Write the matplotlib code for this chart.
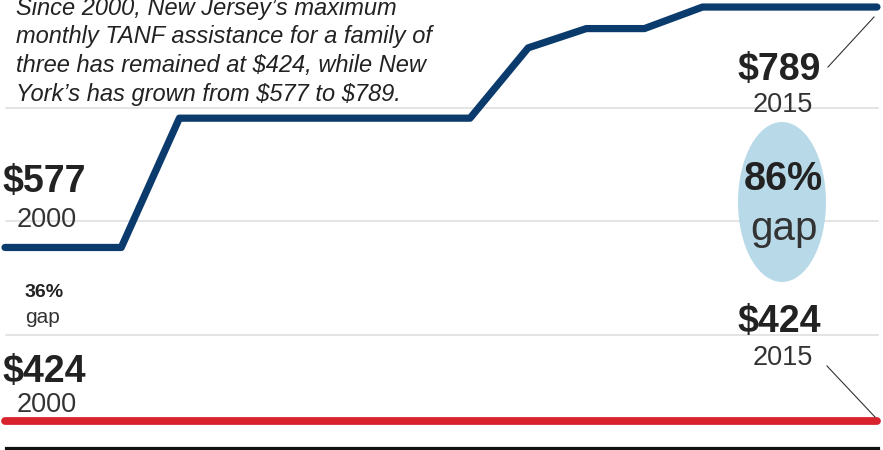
"""TANF maximum monthly benefit, family of three: New York vs New Jersey, 2000-2015."""

import matplotlib.pyplot as plt
from matplotlib.patches import Ellipse
from matplotlib.lines import Line2D

# data
years = list(range(2000, 2016))
ny_benefit = [577, 577, 577, 691, 691, 691, 691, 691, 691, 753, 770, 770, 789, 789, 789, 789]
nj_benefit = [424] * 16
grid_values = [500, 600, 700]

note_lines = [
    "Since 2000, New Jersey\u2019s maximum",
    "monthly TANF assistance for a family of",
    "three has remained at $424, while New",
    "York\u2019s has grown from $577 to $789.",
]

NAVY = '#0b3a6d'
RED = '#d8232f'
BUBBLE = '#b8d9e8'
TEXT = '#222222'

W, H = 883, 450


def fx(px):
    return px / W


def fy(px):
    # pixels from top -> figure fraction
    return 1 - px / H


def main():
    plt.rcParams['font.family'] = ['Liberation Sans', 'DejaVu Sans']
    plt.rcParams['text.parse_math'] = False  # dollar signs are literal
    fig = plt.figure(figsize=(W / 100, H / 100), dpi=100)
    ax = fig.add_axes([0, 0, 1, 1])
    ax.set_xlim(1999.914, 2015.104)
    ax.set_ylim(398.41, 795.2)
    ax.axis('off')

    # gridlines + baseline
    for g in grid_values:
        ax.axhline(g, xmin=fx(6), xmax=fx(878), color='#dcdcdc', lw=1.1, zorder=1)
    ax.axhline(400, xmin=fx(6), xmax=fx(878), color='#111111', lw=2.3, zorder=1, clip_on=False)

    # series
    ax.plot(years, ny_benefit, color=NAVY, lw=5.2, solid_capstyle='round',
            solid_joinstyle='round', zorder=3)
    ax.plot(years, nj_benefit, color=RED, lw=5.6, solid_capstyle='round', zorder=3)

    # italic note
    for i, line in enumerate(note_lines):
        fig.text(fx(16), fy(15 + i * 28.5), line, fontsize=17, style='italic',
                 color=TEXT, va='baseline', ha='left')

    # left labels
    fig.text(fx(2), fy(192), '$577', fontsize=27, fontweight='bold', color=TEXT, va='baseline')
    fig.text(fx(47), fy(227), '2000', fontsize=19.5, color='#333333', va='baseline', ha='center')
    fig.text(fx(44), fy(297), '36%', fontsize=14, fontweight='bold', color=TEXT, va='baseline', ha='center')
    fig.text(fx(43), fy(323), 'gap', fontsize=15, color='#333333', va='baseline', ha='center')
    fig.text(fx(2), fy(382), '$424', fontsize=27, fontweight='bold', color=TEXT, va='baseline')
    fig.text(fx(47), fy(412), '2000', fontsize=19.5, color='#333333', va='baseline', ha='center')

    # right labels
    fig.patches.append(Ellipse((fx(782), fy(202)), 88 / W, 160 / H, transform=fig.transFigure,
                               facecolor=BUBBLE, edgecolor='none', zorder=0))
    fig.text(fx(779), fy(80), '$789', fontsize=27, fontweight='bold', color=TEXT, va='baseline', ha='center')
    fig.text(fx(783), fy(112), '2015', fontsize=19.5, color='#333333', va='baseline', ha='center')
    fig.text(fx(783), fy(190), '86%', fontsize=28.5, fontweight='bold', color=TEXT, va='baseline', ha='center')
    fig.text(fx(784), fy(240), 'gap', fontsize=29, color='#333333', va='baseline', ha='center')
    fig.text(fx(779), fy(332), '$424', fontsize=27, fontweight='bold', color=TEXT, va='baseline', ha='center')
    fig.text(fx(783), fy(365), '2015', fontsize=19.5, color='#333333', va='baseline', ha='center')

    # leader lines
    fig.lines.append(Line2D([fx(828), fx(874)], [fy(67), fy(17)], transform=fig.transFigure,
                            color='#333333', lw=0.8))
    fig.lines.append(Line2D([fx(827), fx(875)], [fy(366), fy(417)], transform=fig.transFigure,
                            color='#333333', lw=0.8))

    fig.savefig('out.png', dpi=100)


if __name__ == "__main__":
    main()
